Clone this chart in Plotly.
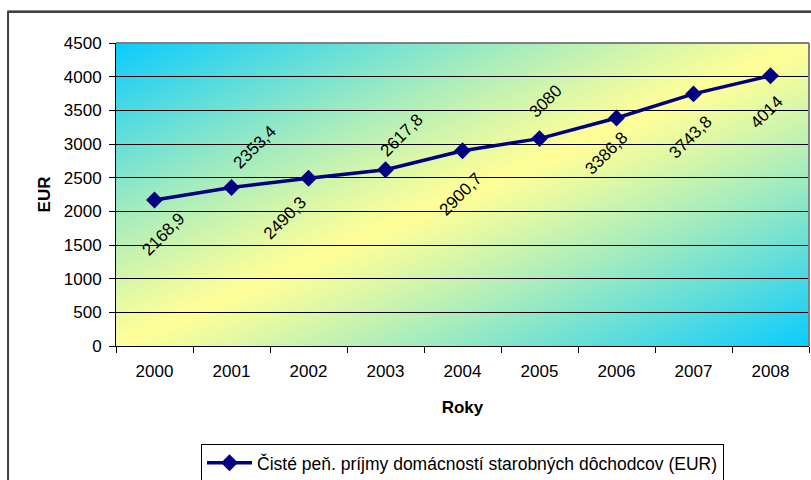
import base64
import struct
import zlib

import numpy as np
import plotly.graph_objects as go

# ---- data ----
years = ["2000", "2001", "2002", "2003", "2004", "2005", "2006", "2007", "2008"]
income = [2168.9, 2353.4, 2490.3, 2617.8, 2900.7, 3080, 3386.8, 3743.8, 4014]
series_name = "Čisté peň. príjmy domácností starobných dôchodcov (EUR)"
y_ticks = [0, 500, 1000, 1500, 2000, 2500, 3000, 3500, 4000, 4500]

# ---- label placement (style: pixel offsets from each point) ----
label_dx = [9, 23, -24, 16, -2, 6, -10, -3, -4]
label_dy = [-35, 40, -40, 34, -44, 37, -36, -44, -37]

NAVY = "#000080"
FONT = "Liberation Sans, Arial, sans-serif"
FS = 17


def gradient_png(w, h):
    c1 = np.array([10, 204, 255], dtype=float)   # cyan corners
    c2 = np.array([255, 255, 153], dtype=float)  # light yellow diagonal
    u = np.linspace(0, 1, w)[None, :]
    v = np.linspace(0, 1, h)[:, None]
    t = np.abs(u + v - 1.0) ** 1.15
    arr = (c2[None, None, :] * (1 - t[..., None]) + c1[None, None, :] * t[..., None])
    arr = np.clip(arr, 0, 255).astype(np.uint8)
    raw = b"".join(b"\x00" + arr[r].tobytes() for r in range(h))

    def chunk(tag, data):
        return (struct.pack(">I", len(data)) + tag + data
                + struct.pack(">I", zlib.crc32(tag + data) & 0xFFFFFFFF))

    png = b"\x89PNG\r\n\x1a\n"
    png += chunk(b"IHDR", struct.pack(">IIBBBBB", w, h, 8, 2, 0, 0, 0))
    png += chunk(b"IDAT", zlib.compress(raw, 9))
    png += chunk(b"IEND", b"")
    return "data:image/png;base64," + base64.b64encode(png).decode()


def fmt(v):
    return f"{v:g}".replace(".", ",")


fig = go.Figure()
fig.add_trace(go.Scatter(
    x=years, y=income, name=series_name, mode="lines+markers",
    line=dict(color=NAVY, width=3.5),
    marker=dict(symbol="diamond", size=13, color=NAVY),
))

annotations = []
for i, (v, dx, dy) in enumerate(zip(income, label_dx, label_dy)):
    annotations.append(dict(
        x=i, y=v, xref="x", yref="y", text=fmt(v), showarrow=False,
        textangle=-45, xshift=dx, yshift=dy,
        font=dict(family=FONT, size=FS, color="black"),
    ))

fig.update_layout(
    width=811, height=480,
    margin=dict(l=116, r=2, t=43, b=134, autoexpand=False),
    paper_bgcolor="white", plot_bgcolor="white",
    font=dict(family=FONT, size=FS, color="black"),
    showlegend=True,
    legend=dict(
        orientation="h", x=0.5, xanchor="center", y=-0.323, yanchor="top",
        bordercolor="black", borderwidth=1, bgcolor="white", itemwidth=45,
        font=dict(family=FONT, size=17.5, color="black"),
    ),
    annotations=annotations,
    images=[dict(
        source=gradient_png(693, 303), xref="paper", yref="paper",
        x=0, y=1, sizex=1, sizey=1, xanchor="left", yanchor="top",
        sizing="stretch", layer="below",
    )],
    shapes=[
        # outer chart frame (extends past the window at right/bottom)
        dict(type="rect", xref="paper", yref="paper",
             x0=-0.1558, x1=1.02, y0=-0.46, y1=1.103,
             line=dict(color="#404040", width=2), layer="above"),
        dict(type="line", xref="paper", yref="paper",
             x0=-0.1558, x1=1.02, y0=1.103, y1=1.103,
             line=dict(color="#404040", width=2.5), layer="below"),
        # gray plot-area border top and right
        dict(type="line", xref="paper", yref="paper", x0=0, x1=1, y0=1, y1=1,
             line=dict(color="#808080", width=2), layer="above"),
        dict(type="line", xref="paper", yref="paper", x0=1, x1=1, y0=0, y1=1,
             line=dict(color="#808080", width=2), layer="above"),
    ],
)

fig.update_xaxes(
    type="category", range=[-0.5, len(years) - 0.5], tickangle=0,
    tickson="boundaries", ticks="outside", ticklen=6, automargin=False,
    tickcolor="black", showline=True, linecolor="black", linewidth=1,
    showgrid=False, ticklabelstandoff=10,
    title=dict(text="<b>Roky</b>", standoff=20, font=dict(family=FONT, size=FS)),
)
fig.update_yaxes(
    range=[0, 4500], tickvals=y_ticks, ticks="outside", ticklen=6, automargin=False,
    tickcolor="black", showline=True, linecolor="black", linewidth=1,
    showgrid=True, gridcolor="black", gridwidth=1, zeroline=False,
    ticklabelstandoff=4,
    title=dict(text="<b>EUR</b>", standoff=8, font=dict(family=FONT, size=FS)),
)

# remove the default page margin so the figure sits at the window's top-left
fig.write_html(
    "out.html",
    config={"displayModeBar": False},
    post_script="document.body.style.margin='0';document.body.style.overflow='hidden';",
)
